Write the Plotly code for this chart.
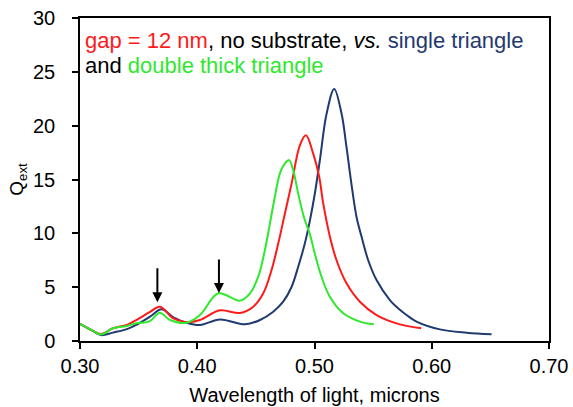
import plotly.graph_objects as go

# Wavelength (microns) and Q_ext values
wl_single = [0.300, 0.310, 0.318, 0.328, 0.340, 0.348, 0.3597, 0.3696, 0.3796, 0.391,
             0.4023, 0.4194, 0.4407, 0.4535, 0.4648, 0.4733, 0.4805, 0.4861, 0.4918, 0.4961,
             0.5003, 0.5046, 0.5103, 0.5168, 0.5231, 0.5273, 0.5316, 0.5359, 0.5401, 0.5458,
             0.5529, 0.5643, 0.5728, 0.5785, 0.587, 0.6069, 0.6297, 0.651]
q_single = [1.6, 1.0, 0.55, 0.78, 1.1, 1.5, 2.26, 2.94, 2.2, 1.7,
            1.49, 2.0, 1.55, 1.95, 2.72, 3.65, 5.04, 6.9, 9.07, 11.2,
            13.7, 16.8, 21.1, 23.4, 21.1, 18.0, 14.5, 11.5, 9.7, 7.5,
            5.66, 3.8, 2.9, 2.41, 1.8, 1.08, 0.77, 0.62]

wl_gap = [0.300, 0.310, 0.318, 0.328, 0.340, 0.348, 0.3597, 0.3682, 0.3796, 0.391,
          0.4023, 0.4194, 0.4364, 0.4478, 0.4563, 0.4634, 0.4691, 0.4748, 0.4805, 0.4876,
          0.4927, 0.4989, 0.504, 0.5074, 0.5131, 0.5188, 0.5273, 0.5387, 0.5529, 0.570,
          0.591]
q_gap = [1.6, 1.0, 0.65, 1.18, 1.5, 1.95, 2.7, 3.19, 2.1, 1.75,
         1.95, 2.85, 2.6, 3.19, 4.43, 6.6, 9.07, 11.86, 14.64, 18.2,
         19.1, 17.4, 15.25, 12.8, 9.7, 7.5, 5.36, 3.65, 2.41, 1.64,
         1.18]

wl_double = [0.300, 0.310, 0.318, 0.328, 0.340, 0.348, 0.3597, 0.368, 0.3767, 0.391,
             0.4023, 0.418, 0.4364, 0.445, 0.452, 0.4577, 0.462, 0.4662, 0.4705, 0.4748,
             0.4784, 0.4818, 0.4861, 0.491, 0.4961, 0.5003, 0.506, 0.5131, 0.5245, 0.5387,
             0.5506]
q_double = [1.6, 1.0, 0.6, 1.18, 1.4, 1.65, 1.85, 2.63, 1.95, 1.7,
            2.41, 4.43, 3.75, 4.43, 5.97, 8.45, 10.93, 13.4, 15.57, 16.5,
            16.8, 15.88, 13.7, 11.5, 9.9, 8.1, 5.97, 4.1, 2.57, 1.8,
            1.55]

# Arrow markers: wavelength, tail Q, head Q
arrow_wl = [0.366, 0.4185]
arrow_tail = [6.9, 7.7]
arrow_head = [3.6, 4.45]

x_ticks = [0.30, 0.40, 0.50, 0.60, 0.70]
y_ticks = [0, 5, 10, 15, 20, 25, 30]

RED = "#FF1A1A"
GREEN = "#2EE82E"
BLUE = "#1F3A70"
FONT = "Liberation Sans, Arial, sans-serif"

fig = go.Figure()
for wl, q, col in [(wl_single, q_single, BLUE), (wl_gap, q_gap, RED), (wl_double, q_double, GREEN)]:
    fig.add_trace(go.Scatter(x=wl, y=q, mode="lines",
                             line=dict(color=col, width=2, shape="spline", smoothing=1.0)))

for xw, yt, yh in zip(arrow_wl, arrow_tail, arrow_head):
    fig.add_annotation(x=xw, y=yh, ax=xw, ay=yt, xref="x", yref="y", axref="x", ayref="y",
                       text="", showarrow=True, arrowhead=2, arrowsize=1, arrowwidth=2,
                       arrowcolor="black")

fig.add_annotation(
    xref="paper", yref="paper", x=0.006, y=0.929, xanchor="left", yanchor="middle",
    align="left", showarrow=False,
    font=dict(family=FONT, size=22, color="black"),
    text=(f'<span style="color:{RED}">gap = 12 nm</span>, no substrate, <i>vs.</i> '
          f'<span style="color:{BLUE}">single triangle</span>'),
)
fig.add_annotation(
    xref="paper", yref="paper", x=0.006, y=0.853, xanchor="left", yanchor="middle",
    align="left", showarrow=False,
    font=dict(family=FONT, size=22, color="black"),
    text=f'and <span style="color:{GREEN}">double thick triangle</span>',
)

fig.update_layout(
    width=573, height=407,
    margin=dict(l=80, r=24, t=18, b=66),
    plot_bgcolor="white", paper_bgcolor="white",
    showlegend=False,
    font=dict(family=FONT, size=20, color="black"),
)
fig.update_xaxes(range=[0.30, 0.70], tickvals=x_ticks, ticktext=[f"{v:.2f}" for v in x_ticks],
                 ticks="outside", ticklen=6, tickwidth=1.5, tickcolor="black",
                 showline=True, linecolor="black", linewidth=1.5, mirror=True,
                 showgrid=False, zeroline=False, automargin=False,
                 title=dict(text="Wavelength of light, microns", font=dict(size=20), standoff=12))
fig.update_yaxes(range=[0, 30], tickvals=y_ticks,
                 ticks="outside", ticklen=6, tickwidth=1.5, tickcolor="black",
                 showline=True, linecolor="black", linewidth=1.5, mirror=True,
                 showgrid=False, zeroline=False, ticklabelstandoff=13, automargin=False,
                 title=dict(text="Q<sub>ext</sub>", font=dict(size=19), standoff=4))

fig.write_html("out.html")
